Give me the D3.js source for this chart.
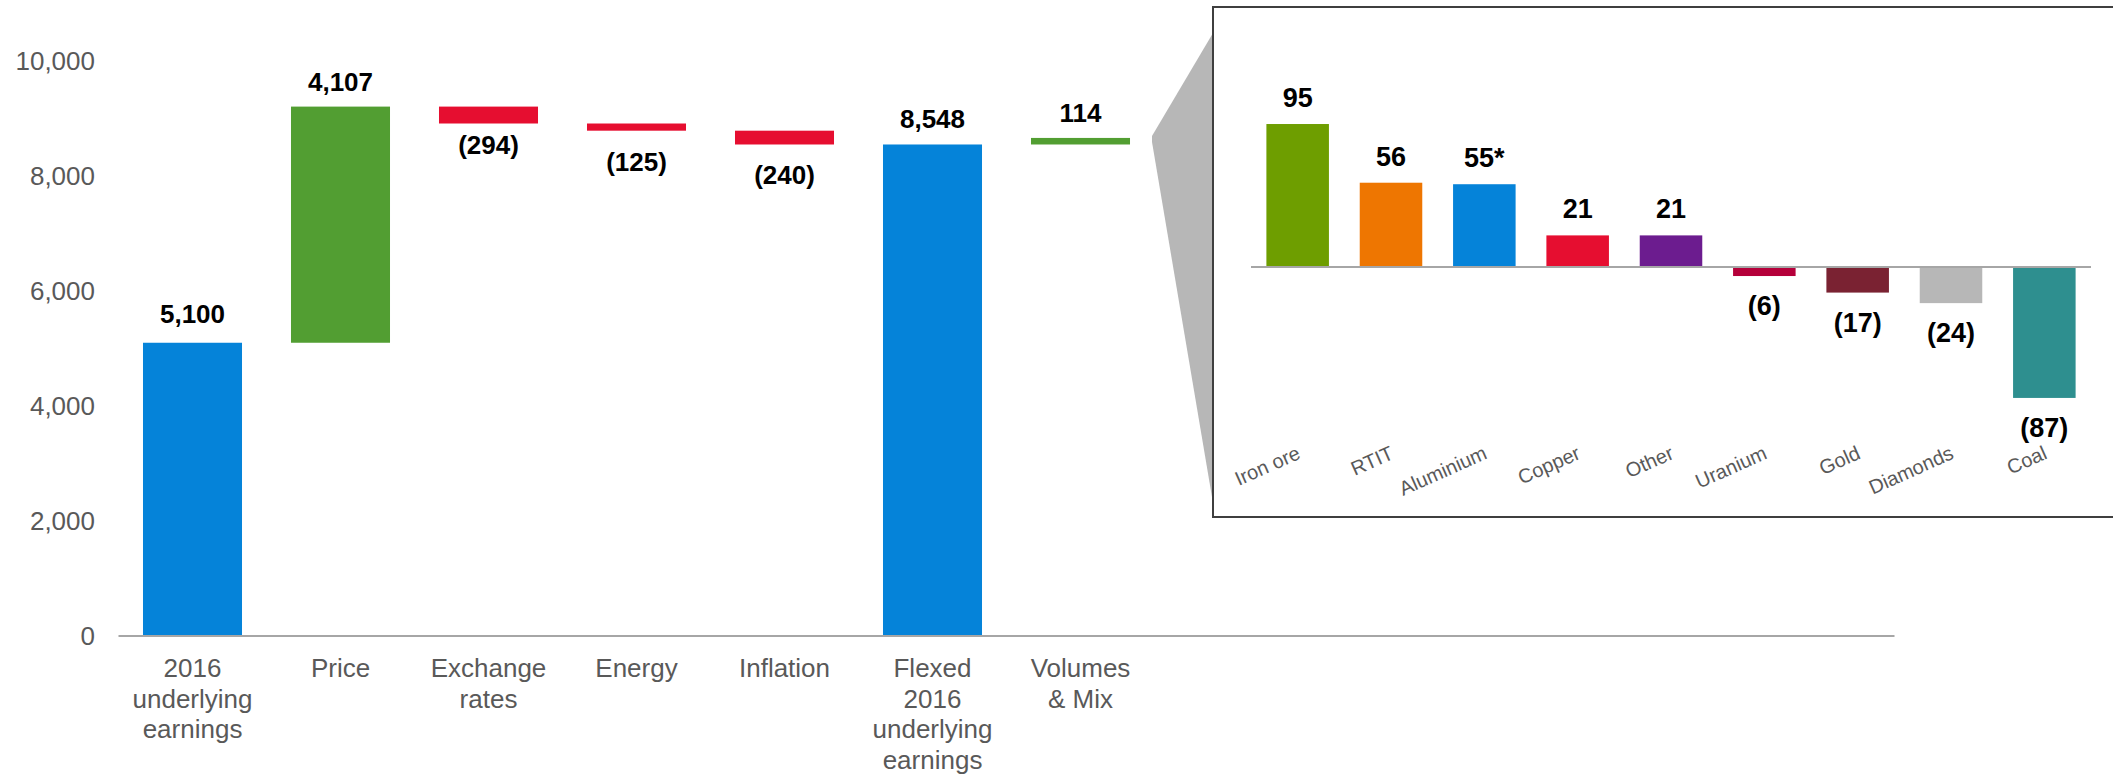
<!DOCTYPE html>
<html>
<head>
<meta charset="utf-8">
<script src="https://cdn.jsdelivr.net/npm/d3@7"></script>
<style>
  body { margin: 0; background: #fff; }
  text { font-family: "Liberation Sans", Arial, sans-serif; }
</style>
</head>
<body>
<div id="chart"></div>
<script>
// main waterfall data
const categories = ["2016\nunderlying\nearnings", "Price", "Exchange\nrates", "Energy", "Inflation",
                    "Flexed\n2016\nunderlying\nearnings", "Volumes\n& Mix"];
const values = [5100, 4107, -294, -125, -240, 8548, 114];
const isTotal = [true, false, false, false, false, true, false];
const yTicks = [0, 2000, 4000, 6000, 8000, 10000];

// breakdown of volumes & mix (inset)
const insetCategories = ["Iron ore", "RTIT", "Aluminium", "Copper", "Other", "Uranium", "Gold", "Diamonds", "Coal"];
const insetValues = [95, 56, 55, 21, 21, -6, -17, -24, -87];
const insetNotes = ["", "", "*", "", "", "", "", "", ""];

// colours
const colTotal = "#0583D9", colUp = "#529E32", colDown = "#E60E30";
const insetColors = ["#6E9E00", "#EE7601", "#0583D9", "#E60E30", "#6C1C8F", "#B5003A", "#7A2232", "#B7B7B7", "#2E8F8F"];
const textGrey = "#595959";

const width = 2113, height = 775;

const svg = d3.select("#chart").append("svg")
    .attr("width", width)
    .attr("height", height);

const fmt = d => d < 0 ? "(" + d3.format(",")(-d) + ")" : d3.format(",")(d);

// ---------- main chart ----------
const x = d3.scaleBand()
    .domain(categories)
    .range([118.5, 118.5 + 148 * 7])
    .paddingInner(0.331)
    .paddingOuter(0.1655);

const y = d3.scaleLinear()
    .domain([0, 10000])
    .range([636, 61]);

// running totals
let run = 0;
const steps = values.map((v, i) => {
    if (isTotal[i]) { run = v; return { c: categories[i], v, y0: 0, y1: v, kind: "total" }; }
    const y0 = run;
    run += v;
    return { c: categories[i], v, y0, y1: run, kind: v >= 0 ? "up" : "down" };
});

// small manual label nudges (labels in the source were placed by hand)
const labelNudge = { "2016\nunderlying\nearnings": -4, "Exchange\nrates": -10 };

svg.append("g")
    .selectAll("rect")
    .data(steps)
    .join("rect")
    .attr("x", d => x(d.c))
    .attr("width", x.bandwidth())
    .attr("y", d => y(Math.max(d.y0, d.y1)))
    .attr("height", d => Math.abs(y(d.y0) - y(d.y1)))
    .attr("fill", d => d.kind === "total" ? colTotal : d.kind === "up" ? colUp : colDown);

svg.append("g")
    .selectAll("text")
    .data(steps)
    .join("text")
    .attr("x", d => x(d.c) + x.bandwidth() / 2)
    .attr("y", d => (d.kind === "down" ? y(Math.min(d.y0, d.y1)) + 40 : y(Math.max(d.y0, d.y1)) - 16) + (labelNudge[d.c] || 0))
    .attr("text-anchor", "middle")
    .style("font-size", "26px")
    .style("font-weight", "bold")
    .attr("fill", "#000")
    .text(d => fmt(d.v));

// y axis (labels only)
svg.append("g")
    .attr("transform", `translate(${x.range()[0]},0)`)
    .call(d3.axisLeft(y).tickValues(yTicks).tickSize(0).tickPadding(23.5).tickFormat(d3.format(",")))
    .call(g => g.select(".domain").remove())
    .call(g => g.selectAll("text")
        .attr("font-family", "'Liberation Sans', Arial, sans-serif")
        .style("font-size", "26px")
        .attr("fill", textGrey));

// x axis with multi-line labels
const xAxis = svg.append("g")
    .attr("transform", `translate(0,${y(0)})`)
    .call(d3.axisBottom(x).tickSize(0))
    .call(g => g.select(".domain").remove());

xAxis.selectAll("text")
    .attr("y", 41)
    .attr("dy", null)
    .style("font-size", "26px")
    .attr("fill", textGrey)
    .each(function(d) {
        const t = d3.select(this);
        t.text(null);
        d.split("\n").forEach((line, i) => {
            t.append("tspan").attr("x", 0).attr("dy", i === 0 ? 0 : 30.5).text(line);
        });
    });

// baseline runs across the whole width (12 slots)
svg.append("line")
    .attr("x1", x.range()[0])
    .attr("x2", x.range()[0] + x.step() * 12)
    .attr("y1", y(0))
    .attr("y2", y(0))
    .attr("stroke", "#A6A6A6")
    .attr("stroke-width", 2);

// ---------- inset ----------
const boxLeft = 1213, boxTop = 7, boxBottom = 517;

// callout wedge from the volumes bar to the box
const vol = steps[steps.length - 1];
const vx = x(vol.c) + x.bandwidth() + 22;
const vy = y(vol.y1) - 2;
svg.append("polygon")
    .attr("points", [[boxLeft, 33], [vx, vy], [vx, vy + 6], [boxLeft, 503]].map(p => p.join(",")).join(" "))
    .attr("fill", "#B7B7B7");

svg.append("rect")
    .attr("x", boxLeft)
    .attr("y", boxTop)
    .attr("width", 1000)
    .attr("height", boxBottom - boxTop)
    .attr("fill", "#fff")
    .attr("stroke", "#3F3F3F")
    .attr("stroke-width", 2);

const xi = d3.scaleBand()
    .domain(insetCategories)
    .range([1251, 2091])
    .paddingInner(0.33)
    .paddingOuter(0.165);

const yi = d3.scaleLinear()
    .domain([-100, 100])
    .range([417.5, 116.5]);

const inset = insetCategories.map((c, i) => ({ c, v: insetValues[i], note: insetNotes[i], col: insetColors[i] }));

svg.append("g")
    .selectAll("rect")
    .data(inset)
    .join("rect")
    .attr("x", d => xi(d.c))
    .attr("width", xi.bandwidth())
    .attr("y", d => yi(Math.max(0, d.v)))
    .attr("height", d => Math.abs(yi(d.v) - yi(0)))
    .attr("fill", d => d.col);

svg.append("line")
    .attr("x1", xi.range()[0])
    .attr("x2", xi.range()[1])
    .attr("y1", yi(0))
    .attr("y2", yi(0))
    .attr("stroke", "#A6A6A6")
    .attr("stroke-width", 2);

svg.append("g")
    .selectAll("text")
    .data(inset)
    .join("text")
    .attr("x", d => xi(d.c) + xi.bandwidth() / 2)
    .attr("y", d => d.v >= 0 ? yi(d.v) - 17 : yi(d.v) + 39)
    .attr("text-anchor", "middle")
    .style("font-size", "27px")
    .style("font-weight", "bold")
    .attr("fill", "#000")
    .text(d => fmt(d.v) + d.note);

svg.append("g")
    .selectAll("text")
    .data(inset)
    .join("text")
    .attr("transform", d => `translate(${xi(d.c) + xi.bandwidth() / 2 + 4},458) rotate(-24)`)
    .attr("text-anchor", "end")
    .style("font-size", "20px")
    .attr("fill", textGrey)
    .text(d => d.c);
</script>
</body>
</html>
